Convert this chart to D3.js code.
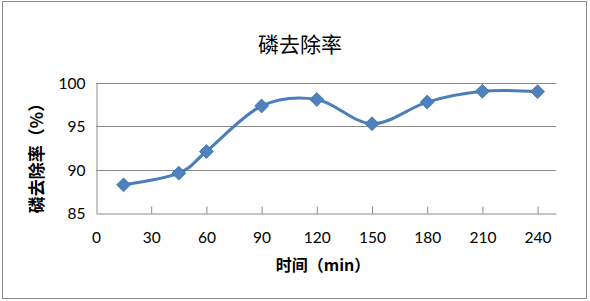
<!DOCTYPE html>
<html>
<head>
<meta charset="utf-8">
<script src="https://cdn.jsdelivr.net/npm/d3@7"></script>
<style>
    body { margin: 0; background: #fff; }
    svg { display: block; }
</style>
</head>
<body>
<svg id="chart" width="590" height="301"></svg>
<script>
var times = [15, 45, 60, 90, 120, 150, 180, 210, 240];
var removal = [88.25, 89.6, 92.1, 97.35, 98.1, 95.3, 97.8, 99.05, 99.0];
var xTicks = [0, 30, 60, 90, 120, 150, 180, 210, 240];
var yTicks = [85, 90, 95, 100];

var svg = d3.select('#chart');
var margin = { left: 96, right: 34, top: 83, bottom: 88 };
var W = 590, H = 301;

var x = d3.scaleLinear().domain([0, 250]).range([margin.left, W - margin.right]);
var y = d3.scaleLinear().domain([85, 100]).range([H - margin.bottom, margin.top]);

// outer chart border
svg.append('rect')
    .attr('x', 2.5).attr('y', 1.5)
    .attr('width', 584).attr('height', 297)
    .attr('fill', '#fff')
    .attr('stroke', '#8c8c8c')
    .attr('stroke-width', 1);

// gridlines
svg.append('g').selectAll('line')
    .data(yTicks.slice(1))
    .enter().append('line')
    .attr('x1', x(0)).attr('x2', x(250))
    .attr('y1', function(d) { return Math.round(y(d)) + 0.5; })
    .attr('y2', function(d) { return Math.round(y(d)) + 0.5; })
    .attr('stroke', '#8a8a8a');

// y axis
var yAxis = svg.append('g')
    .attr('transform', 'translate(' + (Math.round(x(0)) + 0.5) + ',0)')
    .call(d3.axisLeft(y).tickValues(yTicks).tickSize(0).tickPadding(11));

// x axis (ticks pointing up into the plot)
var xAxis = svg.append('g')
    .attr('transform', 'translate(0,' + (Math.round(y(85)) + 0.5) + ')')
    .call(d3.axisBottom(x).tickValues(xTicks).tickSize(0).tickPadding(18));

xAxis.selectAll('.tick line')
    .attr('y2', -7)
    .attr('stroke', '#8a8a8a');
xAxis.select('.tick line').remove(); // no tick at 0

[xAxis, yAxis].forEach(function(a) {
    a.select('.domain').attr('stroke', '#8a8a8a');
    a.selectAll('text')
        .attr('fill', '#000')
        .style('font-family', 'Lato, "Liberation Sans", sans-serif')
        .style('font-size', '15.5px');
});
yAxis.selectAll('text').attr('dy', '0.35em');

// smoothed line
var line = d3.line()
    .x(function(d, i) { return x(times[i]); })
    .y(function(d) { return y(d); })
    .curve(d3.curveCardinal.tension(0));

svg.append('path')
    .datum(removal)
    .attr('d', line)
    .attr('fill', 'none')
    .attr('stroke', '#4a7ebb')
    .attr('stroke-width', 3)
    .attr('stroke-linejoin', 'round');

// diamond markers
svg.append('g').selectAll('path')
    .data(removal)
    .enter().append('path')
    .attr('d', d3.symbol(d3.symbolSquare, 96))
    .attr('transform', function(d, i) {
        return 'translate(' + x(times[i]) + ',' + y(d) + ') rotate(45)';
    })
    .attr('fill', '#4f81bd')
    .attr('stroke', '#3f6fa8')
    .attr('stroke-width', 0.8);

// title
svg.append('text')
    .attr('x', 300).attr('y', 52)
    .attr('text-anchor', 'middle')
    .style('font-family', '"Noto Sans CJK SC", sans-serif')
    .style('font-size', '21px')
    .text('磷去除率');

// x axis title
svg.append('text')
    .attr('x', 323).attr('y', 271)
    .attr('text-anchor', 'middle')
    .style('font-family', '"Noto Sans CJK SC", sans-serif')
    .style('font-size', '16px')
    .style('font-weight', 'bold')
    .text('时间（min）');

// y axis title
svg.append('text')
    .attr('transform', 'translate(43,154) rotate(-90)')
    .attr('text-anchor', 'middle')
    .style('font-family', '"Noto Sans CJK SC", sans-serif')
    .style('font-size', '17px')
    .style('font-weight', 'bold')
    .text('磷去除率（%）');
</script>
</body>
</html>
